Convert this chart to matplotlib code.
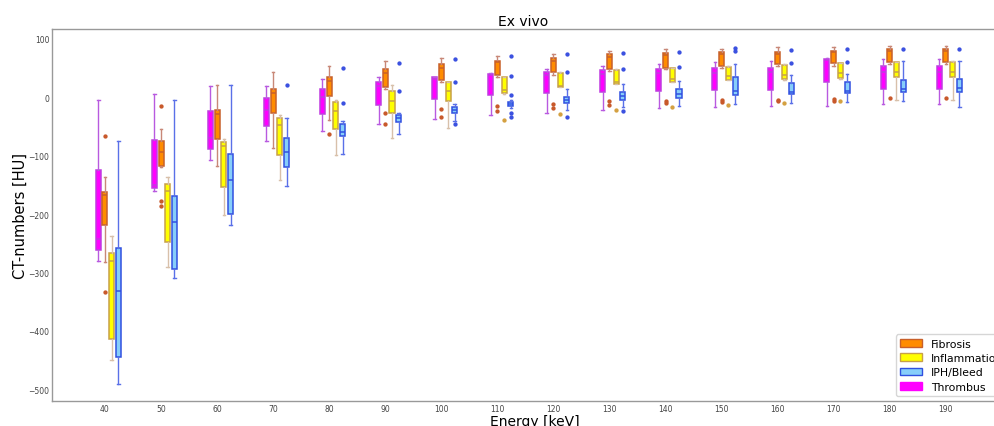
import matplotlib
matplotlib.use("Agg")
import matplotlib.pyplot as plt
from matplotlib.patches import Patch

energies = [40, 50, 60, 70, 80, 90, 100, 110, 120, 130, 140, 150, 160, 170, 180, 190]

# Thrombus
thr_lo = [-280, -161, -107, -75, -58, -45, -37, -30, -26, -22, -18, -16, -15, -14, -12, -12]
thr_q1 = [-261, -156, -88, -49, -29, -13, -3, 4, 7, 9, 11, 12, 12, 26, 14, 14]
thr_med = [-243, -150, -69, -22, 0, 19, 31, 38, 39, 40, 42, 42, 43, 64, 43, 43]
thr_q3 = [-125, -73, -24, -1, 15, 27, 34, 40, 43, 47, 48, 50, 51, 66, 53, 53]
thr_hi = [-5, 5, 20, 20, 31, 34, 35, 41, 48, 53, 57, 60, 62, 68, 65, 65]
thr_fl = [[] for _ in energies]

# Fibrosis
fib_lo = [-282, -120, -118, -86, -38, 15, 27, 35, 39, 45, 48, 50, 53, 54, 57, 57]
fib_q1 = [-218, -117, -71, -27, 2, 18, 30, 39, 43, 49, 51, 54, 57, 58, 60, 60]
fib_med = [-167, -93, -29, 8, 28, 41, 51, 60, 62, 69, 72, 75, 75, 77, 80, 80]
fib_q3 = [-162, -75, -21, 14, 34, 48, 57, 63, 68, 74, 76, 78, 78, 80, 82, 83]
fib_hi = [-137, -55, 21, 44, 54, 62, 67, 70, 75, 79, 82, 83, 86, 87, 88, 88]
fib_fl = [[-67, -334], [-14, -178, -186], [], [], [-62], [-26, -45], [-20, -33],
          [-14, -24], [-11, -19], [-7, -13], [-6, -10], [-4, -8], [-4, -6],
          [-3, -6], [-2], [-2]]

# Inflammation
inf_lo = [-450, -291, -201, -142, -99, -70, -53, 6, 17, 22, 26, 29, 30, 32, -5, -5]
inf_q1 = [-413, -247, -153, -98, -54, -26, -6, 8, 17, 23, 26, 30, 31, 33, 34, 34]
inf_med = [-281, -160, -84, -48, -24, -7, 10, 13, 19, 27, 31, 36, 38, 41, 44, 44]
inf_q3 = [-266, -149, -77, -36, -8, 11, 26, 34, 42, 47, 50, 52, 56, 58, 60, 61]
inf_hi = [-238, -137, -72, -31, -4, 21, 27, 35, 43, 48, 51, 53, 57, 59, 61, 62]
inf_fl = [[], [], [], [], [], [], [], [-38], [-29], [-22], [-17], [-13], [-9], [-7], [], []]

# IPH/Bleed
iph_lo = [-491, -310, -218, -152, -97, -62, -40, -18, -21, -17, -14, -12, -9, -8, -7, -17]
iph_q1 = [-444, -294, -199, -120, -66, -42, -26, -15, -10, -5, -1, 4, 5, 7, 9, 9]
iph_med = [-331, -213, -142, -94, -59, -36, -21, -12, -4, 3, 6, 11, 9, 10, 14, 16]
iph_q3 = [-258, -169, -97, -69, -45, -30, -17, -8, 0, 9, 15, 34, 24, 27, 29, 31]
iph_hi = [-74, -5, 21, -36, -40, -27, -12, -5, 15, 22, 28, 57, 38, 40, 62, 63]
iph_fl = [[], [], [], [21], [50, -9], [59, 10], [65, 26, -45], [70, 36, 4, -27, -34],
          [74, 43, -34], [76, 48, -24], [77, 52], [84, 79], [81, 59], [82, 60], [83], [82]]

series = [
    # label, lo, q1, med, q3, hi, fliers, offset, face, edge, whisker, flier
    ("Thrombus", thr_lo, thr_q1, thr_med, thr_q3, thr_hi, thr_fl, -1.2,
     "#ff00ff", "#c03ce0", "#b85ae0", "#c03ce0"),
    ("Fibrosis", fib_lo, fib_q1, fib_med, fib_q3, fib_hi, fib_fl, 0.0,
     "#ff8c00", "#c8602a", "#c88878", "#c8582a"),
    ("Inflammation", inf_lo, inf_q1, inf_med, inf_q3, inf_hi, inf_fl, 1.2,
     "#ffff00", "#c8a048", "#d8c0aa", "#d4a040"),
    ("IPH/Bleed", iph_lo, iph_q1, iph_med, iph_q3, iph_hi, iph_fl, 2.4,
     "#87cefa", "#3050e0", "#5a70e8", "#3a50e0"),
]

fig = plt.figure(figsize=(9.94, 4.27), dpi=100)
ax = fig.add_axes([52 / 994, 25 / 427, 965 / 994, 372 / 427])

for label, lo, q1, med, q3, hi, fl, off, face, edge, wcol, fcol in series:
    stats = []
    for i in range(len(energies)):
        stats.append({"whislo": lo[i], "q1": q1[i], "med": med[i],
                      "q3": q3[i], "whishi": hi[i], "fliers": fl[i]})
    ax.bxp(stats, positions=[e + off for e in energies], widths=0.9,
           patch_artist=True, manage_ticks=False,
           boxprops=dict(facecolor=face, edgecolor=edge, linewidth=1.1),
           medianprops=dict(color=edge, linewidth=1.1),
           whiskerprops=dict(color=wcol, linewidth=1.0),
           capprops=dict(color=wcol, linewidth=1.0),
           flierprops=dict(marker="o", markersize=2.1, markerfacecolor=fcol,
                           markeredgecolor=fcol, linestyle="none"))

ax.set_xlim(30.55, 202.7)
ax.set_ylim(-520, 117)
ax.set_xticks(energies)
ax.set_xticklabels([str(e) for e in energies])
ax.set_yticks([-500, -400, -300, -200, -100, 0, 100])
ax.tick_params(length=0, labelsize=5.5, labelcolor="#444444", pad=2)

for s in ax.spines.values():
    s.set_color("#999999")
    s.set_linewidth(1.0)

ax.set_title("Ex vivo", fontsize=10, pad=3, x=0.488)
ax.set_xlabel("Energy [keV]", fontsize=10, labelpad=1)
ax.set_ylabel("CT-numbers [HU]", fontsize=10.5, labelpad=0)

handles = [Patch(facecolor="#ff8c00", edgecolor="#c8602a", label="Fibrosis"),
           Patch(facecolor="#ffff00", edgecolor="#c8a048", label="Inflammation"),
           Patch(facecolor="#87cefa", edgecolor="#3050e0", label="IPH/Bleed"),
           Patch(facecolor="#ff00ff", edgecolor="#ff00ff", label="Thrombus")]
ax.legend(handles=handles, loc="lower left", bbox_to_anchor=(896 / 994, 30 / 427),
          bbox_transform=fig.transFigure, fontsize=7.8, handlelength=2.0,
          labelspacing=0.4, borderaxespad=0)

fig.savefig("out.png", dpi=100)
